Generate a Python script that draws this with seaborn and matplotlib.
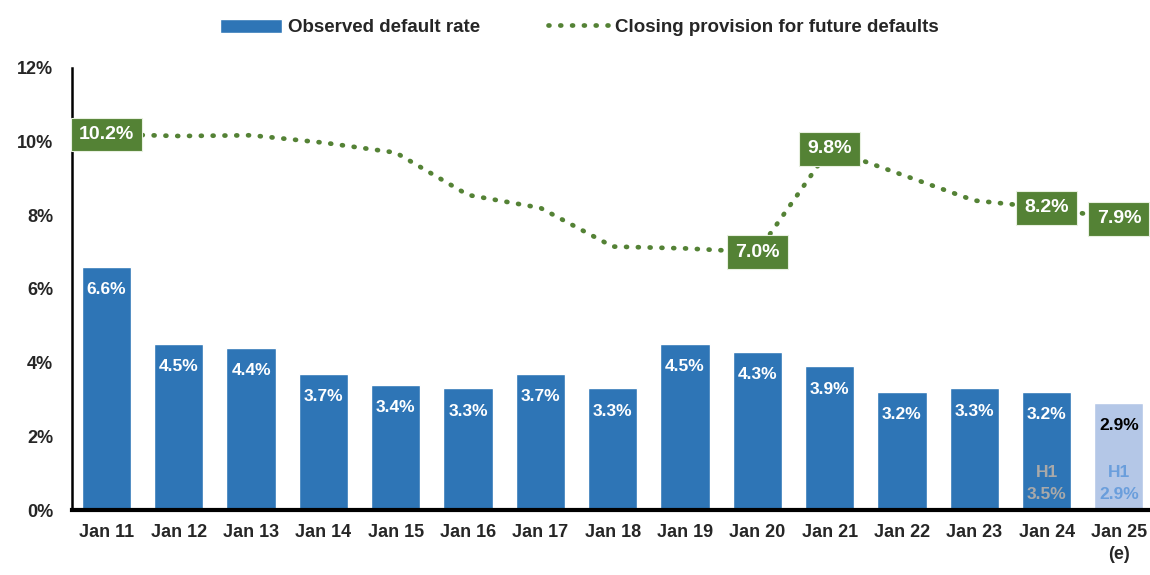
import numpy as np
import pandas as pd
import matplotlib.pyplot as plt
import seaborn as sns
from matplotlib.patches import Patch
from matplotlib.lines import Line2D

years = ['Jan 11', 'Jan 12', 'Jan 13', 'Jan 14', 'Jan 15', 'Jan 16', 'Jan 17', 'Jan 18',
         'Jan 19', 'Jan 20', 'Jan 21', 'Jan 22', 'Jan 23', 'Jan 24', 'Jan 25\n(e)']
default_rate = [6.6, 4.5, 4.4, 3.7, 3.4, 3.3, 3.7, 3.3, 4.5, 4.3, 3.9, 3.2, 3.3, 3.2, 2.9]
provision = [10.2, 10.15, 10.17, 9.97, 9.7, 8.55, 8.2, 7.15, 7.1, 7.0, 9.8, 9.1, 8.4, 8.2, 7.9]
provision_labelled = ['Jan 11', 'Jan 20', 'Jan 21', 'Jan 24', 'Jan 25\n(e)']
h1_labels = {'Jan 24': 'H1\n3.5%', 'Jan 25\n(e)': 'H1\n2.9%'}

blue = '#2E75B6'
light_blue = '#B4C7E7'
green = '#548235'

df = pd.DataFrame({'year': years, 'rate': default_rate, 'prov': provision})
df['x'] = np.arange(len(df))

sns.set_style('white')
plt.rcParams['font.family'] = ['Liberation Sans', 'DejaVu Sans']

fig, ax = plt.subplots(figsize=(11.5, 5.75), dpi=100)
fig.subplots_adjust(left=0.063, right=1.0, top=0.882, bottom=0.113)

bar_colors = [blue] * (len(years) - 1) + [light_blue]
sns.barplot(data=df, x='year', y='rate', hue='year', palette=bar_colors, saturation=1,
            width=0.68, legend=False, ax=ax, zorder=2)

dots = (0, (0.2, 2.3))
sns.lineplot(data=df, x='x', y='prov', color=green, linestyle=dots,
             linewidth=3.4, dash_capstyle='round', ax=ax, zorder=3)

for i, row in df.iterrows():
    col = 'black' if i == len(df) - 1 else 'white'
    ax.annotate(f"{row['rate']:.1f}%", (row['x'], row['rate']), xytext=(0, -11),
                textcoords='offset points', ha='center', va='top',
                fontsize=12.5, fontweight='bold', color=col, zorder=5)
    if row['year'] in provision_labelled:
        ax.text(row['x'], row['prov'], f"{row['prov']:.1f}%", ha='center', va='center',
                fontsize=14, fontweight='bold', color='white', zorder=6,
                bbox=dict(boxstyle='square,pad=0.42', fc=green, ec='#E8F0E0', lw=0.8))
    if row['year'] in h1_labels:
        hcol = '#A9A9A9' if row['year'] == 'Jan 24' else '#6A9EDC'
        ax.text(row['x'], 0.72, h1_labels[row['year']], ha='center', va='center',
                fontsize=12.5, fontweight='bold', color=hcol, linespacing=1.65, zorder=5)

ax.set_ylim(0, 12)
ax.set_xlim(-0.47, 14.43)
ax.set_yticks(range(0, 13, 2))
ax.set_yticklabels([f'{v}%' for v in range(0, 13, 2)], fontsize=13, fontweight='bold')
ax.set_xticks(range(len(years)))
ax.set_xticklabels(years, fontsize=13, fontweight='bold', linespacing=1.4)
ax.tick_params(axis='y', length=0, pad=14)
ax.tick_params(axis='x', length=0, pad=10)
ax.set_xlabel('')
ax.set_ylabel('')

for s in ['top', 'right']:
    ax.spines[s].set_visible(False)
ax.spines['left'].set_color('black')
ax.spines['left'].set_linewidth(1.8)
ax.spines['bottom'].set_color('black')
ax.spines['bottom'].set_linewidth(3)

handles = [Patch(facecolor=blue, label='Observed default rate'),
           Line2D([0], [0], color=green, linestyle=dots, linewidth=3.4,
                  dash_capstyle='round', label='Closing provision for future defaults')]
fig.legend(handles=handles, loc='upper center', bbox_to_anchor=(0.504, 0.997), ncol=2,
           frameon=False, prop={'weight': 'bold', 'size': 13.5}, columnspacing=3.6,
           handlelength=3.3, handleheight=0.8, handletextpad=0.3)

plt.savefig('out.png', dpi=100)
